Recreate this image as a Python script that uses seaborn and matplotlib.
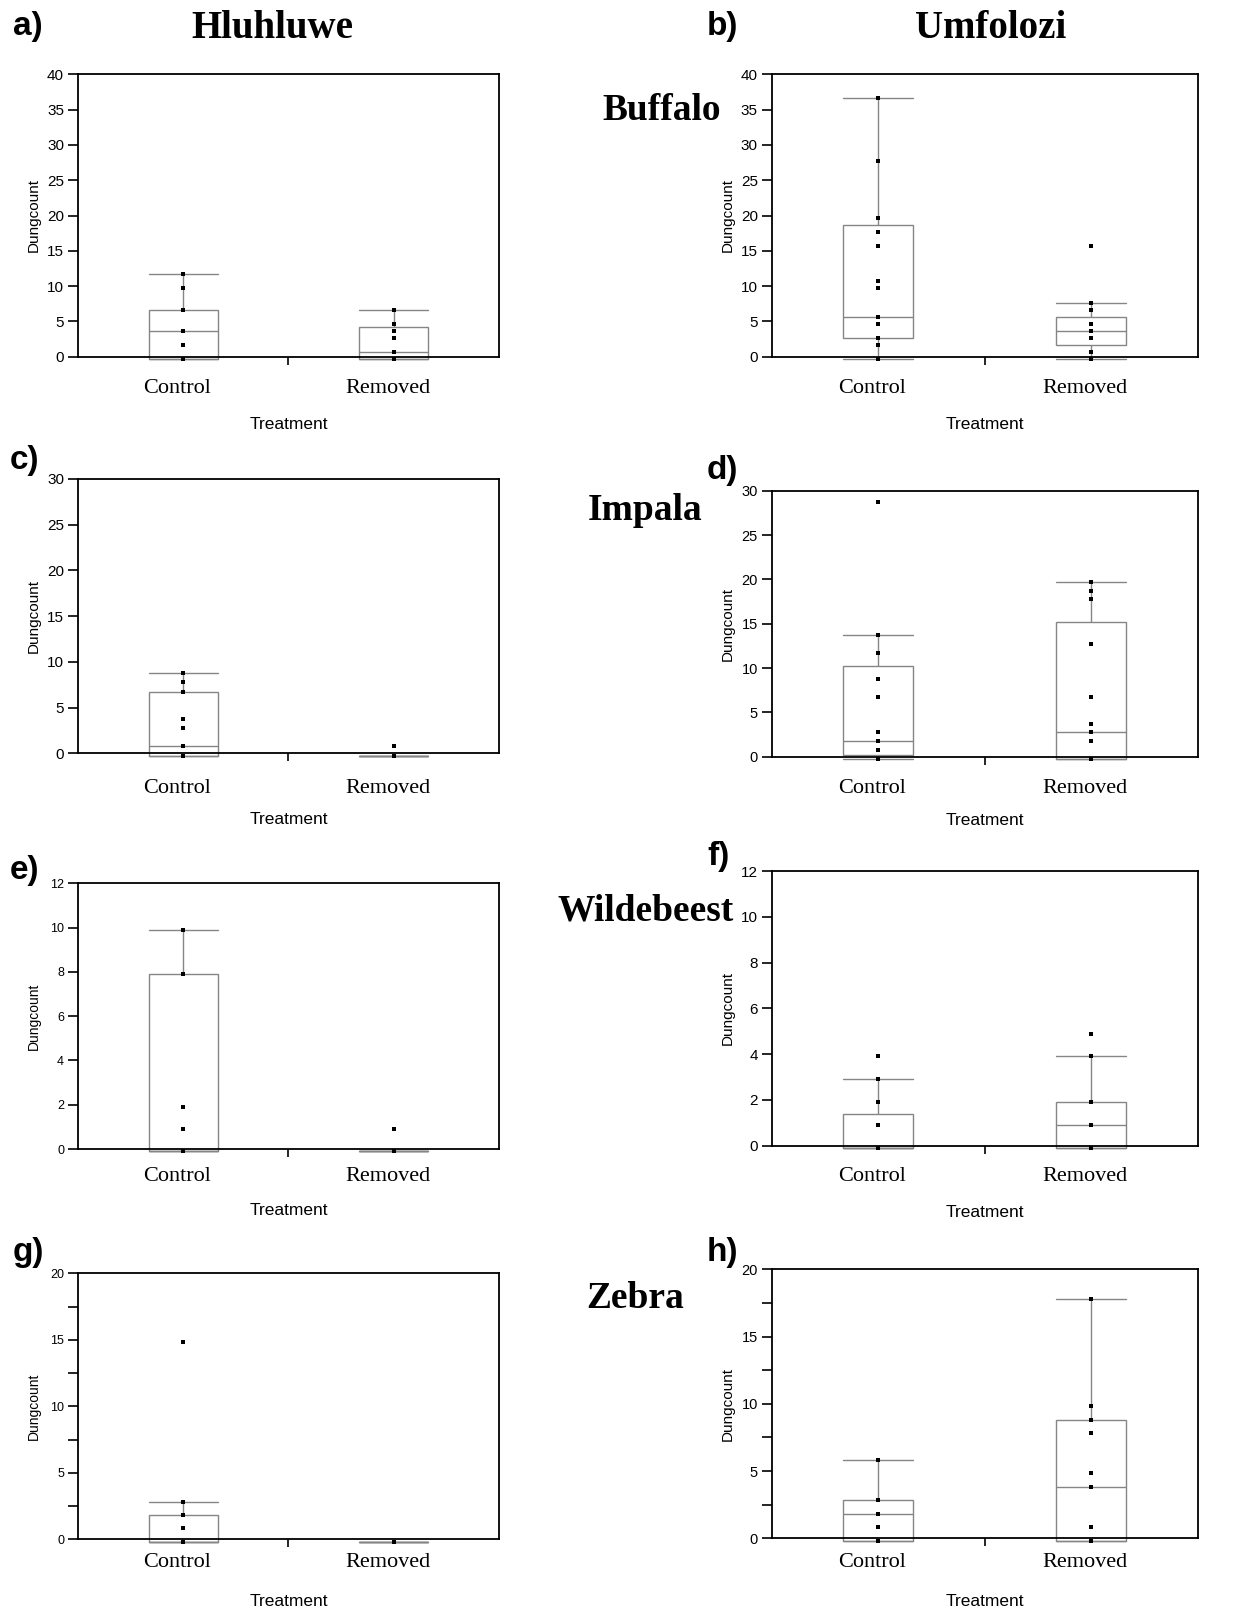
import numpy as np
import pandas as pd
import matplotlib
matplotlib.use("Agg")
import matplotlib.pyplot as plt
from matplotlib.ticker import MultipleLocator, FixedLocator
from matplotlib.transforms import ScaledTranslation
import seaborn as sns

# ---------------------------------------------------------------
# Dung counts per plot, by reserve (Hluhluwe / Umfolozi) and species
# ---------------------------------------------------------------
treatments = ["Control", "Removed"]

hl_buffalo_control = [0, 0, 0, 2, 4, 4, 7, 10, 12]
hl_buffalo_removed = [0, 0, 0, 0, 0, 1, 3, 4, 5, 5, 7]
um_buffalo_control = [0, 0, 0, 2, 3, 3, 5, 6, 6, 6, 10, 11, 16, 18, 20, 20, 20, 28, 37]
um_buffalo_removed = [0, 0, 1, 3, 4, 4, 5, 5, 7, 8, 16]

hl_impala_control = [0, 0, 0, 0, 0, 1, 1, 3, 4, 7, 7, 8, 9]
hl_impala_removed = [0, 0, 0, 0, 0, 0, 0, 0, 1]
um_impala_control = [0, 0, 0, 0, 1, 1, 2, 2, 3, 7, 9, 12, 14, 14, 29]
um_impala_removed = [0, 0, 0, 0, 0, 2, 2, 3, 4, 7, 13, 18, 19, 20, 20]

hl_wildebeest_control = [0, 0, 0, 0, 0, 0, 0, 1, 2, 8, 8, 8, 10]
hl_wildebeest_removed = [0, 0, 0, 0, 0, 0, 0, 0, 1]
um_wildebeest_control = [0, 0, 0, 0, 0, 0, 0, 1, 2, 3, 4]
um_wildebeest_removed = [0, 0, 0, 0, 1, 1, 2, 4, 5]

hl_zebra_control = [0, 0, 0, 0, 0, 1, 2, 3, 15]
hl_zebra_removed = [0, 0, 0, 0, 0, 0, 0, 0, 0]
um_zebra_control = [0, 0, 0, 1, 2, 2, 3, 3, 6]
um_zebra_removed = [0, 0, 0, 0, 1, 4, 4, 5, 8, 9, 9, 10, 18]

sites = ["Hluhluwe", "Umfolozi"]
species = ["Buffalo", "Impala", "Wildebeest", "Zebra"]
panel_letters = ["a)", "b)", "c)", "d)", "e)", "f)", "g)", "h)"]

panel_data = [
    (hl_buffalo_control, hl_buffalo_removed),
    (um_buffalo_control, um_buffalo_removed),
    (hl_impala_control, hl_impala_removed),
    (um_impala_control, um_impala_removed),
    (hl_wildebeest_control, hl_wildebeest_removed),
    (um_wildebeest_control, um_wildebeest_removed),
    (hl_zebra_control, hl_zebra_removed),
    (um_zebra_control, um_zebra_removed),
]

# y-axis range, major step, minor step per panel
y_axes = [
    (40, 5, None), (40, 5, None),
    (30, 5, None), (30, 5, None),
    (12, 2, None), (12, 2, None),
    (20, 5, 2.5), (20, 5, 2.5),
]

# ---------------------------------------------------------------
# Layout (pixel units of the 1234 x 1613 canvas)
# ---------------------------------------------------------------
W, H = 1234, 1613
# left, top, right, bottom of each axes box
boxes_px = [
    (78, 74.3, 499, 356.7), (771.7, 74.3, 1197.7, 356.7),
    (78, 479, 499, 753.3), (771.7, 490.7, 1197.7, 756.7),
    (78, 883.3, 499, 1149), (771.7, 871, 1197.7, 1145.7),
    (78, 1273.3, 499, 1539.3), (771.7, 1269.3, 1197.7, 1538.3),
]
cat_label_off = [35, 35, 38, 35, 30, 34, 26, 27]     # centre of Control/Removed below axis
xlabel_off = [70, 70, 68, 66, 64, 69, 64, 65]        # centre of "Treatment" below axis
tick_font = [11, 11, 11, 10.5, 9, 11, 9, 10.5]
letter_pos = [(13, 27), (707, 27), (10, 460), (707, 470),
              (10, 870), (707, 857), (13, 1252), (707, 1252)]
site_pos = [(272, 29), (991, 29)]
species_pos = [(662, 110), (645, 511), (646, 911), (635, 1299)]

SANS = ["Liberation Sans", "DejaVu Sans"]
SERIF = ["Liberation Serif", "DejaVu Serif"]
BOX_GREY = "#858585"
BOX_WIDTH = 0.33

sns.set_theme(style="white")
plt.rcParams["font.family"] = SANS
plt.rcParams["text.color"] = "black"
plt.rcParams["axes.labelcolor"] = "black"
plt.rcParams["xtick.color"] = "black"
plt.rcParams["ytick.color"] = "black"
plt.rcParams["axes.edgecolor"] = "black"
plt.rcParams["axes.linewidth"] = 1.3

fig = plt.figure(figsize=(W / 100, H / 100), dpi=100)
fig.patch.set_facecolor("white")

# the plotted marks sit a couple of pixels under the tick positions
mark_shift = ScaledTranslation(0, -0.023, fig.dpi_scale_trans)
label_shift = ScaledTranslation(-0.06, 0, fig.dpi_scale_trans)

for i, ((ctrl, rem), (ymax, ystep, yminor), (l, t, r, b)) in enumerate(
        zip(panel_data, y_axes, boxes_px)):
    ax = fig.add_axes([l / W, 1 - b / H, (r - l) / W, (b - t) / H])
    w_px, h_px = r - l, b - t

    df = pd.DataFrame({
        "Treatment": [treatments[0]] * len(ctrl) + [treatments[1]] * len(rem),
        "Dungcount": list(ctrl) + list(rem),
    })

    sns.boxplot(data=df, x="Treatment", y="Dungcount", order=treatments,
                width=BOX_WIDTH, whis=1.45, showfliers=False,
                color="white", linecolor=BOX_GREY, linewidth=1.0, ax=ax)

    # whisker caps as wide as the boxes
    for ln in ax.lines:
        xd, yd = np.asarray(ln.get_xdata(), float), np.asarray(ln.get_ydata(), float)
        if len(xd) == 2 and yd[0] == yd[1]:
            span = abs(xd[1] - xd[0])
            if 0 < span < BOX_WIDTH - 1e-6:
                c = xd.mean()
                ln.set_xdata([c - BOX_WIDTH / 2, c + BOX_WIDTH / 2])
    for art in list(ax.lines) + list(ax.patches):
        art.set_clip_on(False)
        art.set_transform(art.get_transform() + mark_shift)

    sns.stripplot(data=df, x="Treatment", y="Dungcount", order=treatments,
                  jitter=False, marker="s", size=3.4, color="black",
                  linewidth=0, ax=ax, zorder=4)
    for coll in ax.collections:
        coll.set_clip_on(False)
        coll.set_offset_transform(ax.transData + mark_shift)

    ax.set_xlim(-0.5, 1.5)
    ax.set_ylim(0, ymax)
    ax.yaxis.set_major_locator(MultipleLocator(ystep))
    if yminor:
        ax.yaxis.set_minor_locator(MultipleLocator(yminor))
    ax.tick_params(axis="y", which="both", direction="out", length=7,
                   width=1.2, pad=3, labelsize=tick_font[i], colors="black",
                   left=True)

    # category labels with no tick, one short tick between the groups
    ax.set_xticks([0, 1])
    ax.set_xticklabels(treatments, fontfamily=SERIF, fontsize=16)
    ax.xaxis.set_minor_locator(FixedLocator([0.5]))
    pad_px = cat_label_off[i] - 12.3
    ax.tick_params(axis="x", which="major", length=0, pad=pad_px / 1.389,
                   colors="black")
    ax.tick_params(axis="x", which="minor", direction="out", length=6,
                   width=1.2, bottom=True)
    for lbl in ax.get_xticklabels():
        lbl.set_transform(lbl.get_transform() + label_shift)

    for sp in ax.spines.values():
        sp.set_visible(True)
        sp.set_color("black")
        sp.set_linewidth(1.3)
        sp.set_zorder(3)

    ax.set_xlabel("Treatment", fontsize=12.5, fontfamily=SANS, color="black")
    ax.xaxis.set_label_coords(0.5, -(xlabel_off[i] - 9.7) / h_px)
    ax.set_ylabel("Dungcount", fontsize=11 if tick_font[i] > 10 else 10,
                  fontfamily=SANS, color="black")
    ax.yaxis.set_label_coords(-37 / w_px, 0.5)
    ax.set_facecolor("white")

# panel letters
for lab, (x, y) in zip(panel_letters, letter_pos):
    fig.text(x / W, 1 - y / H, lab, fontsize=24, fontweight="bold",
             fontfamily=SANS, ha="left", va="center", color="black")

# reserve headings
for name, (x, y) in zip(sites, site_pos):
    fig.text(x / W, 1 - y / H, name, fontsize=28, fontweight="bold",
             fontfamily=SERIF, ha="center", va="center", color="black")

# species headings between the columns
for name, (x, y) in zip(species, species_pos):
    fig.text(x / W, 1 - y / H, name, fontsize=27, fontweight="bold",
             fontfamily=SERIF, ha="center", va="center", color="black")

fig.savefig("out.png", dpi=100, facecolor="white")
